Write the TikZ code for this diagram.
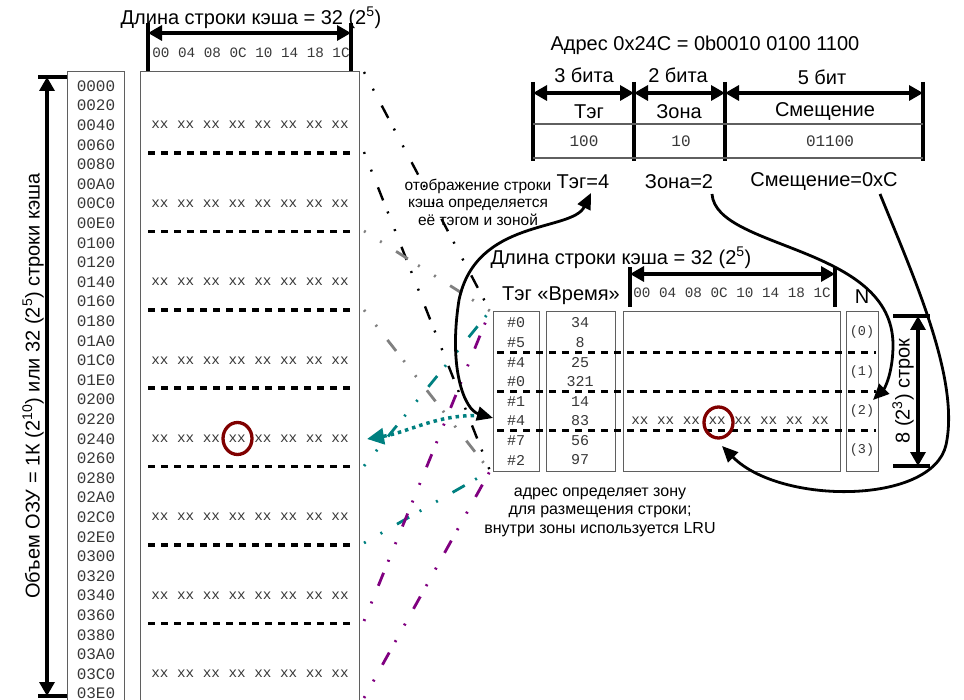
\documentclass[tikz,border=0pt]{standalone}
\usepackage{fontspec}
\setmainfont{Liberation Sans}
\setmonofont{Liberation Mono}
\usetikzlibrary{arrows.meta}
\definecolor{tealc}{RGB}{0,128,128}
\definecolor{purpc}{RGB}{128,0,128}
\definecolor{grayc}{RGB}{128,128,128}
\definecolor{dred}{RGB}{128,0,0}
\definecolor{mgray}{RGB}{55,55,55}
\definecolor{bgray}{RGB}{95,95,95}
\tikzset{
 lbl/.style={font=\fontsize{20}{22}\selectfont, inner sep=0pt},
 note/.style={font=\fontsize{15.5}{17.5}\selectfont, align=center, inner sep=0pt},
 mono/.style={font=\ttfamily\fontsize{16}{18}\selectfont, text=mgray, inner sep=0pt},
 monox/.style={font=\ttfamily\fontsize{14.3}{16}\selectfont, text=mgray, inner sep=0pt},
 monon/.style={font=\ttfamily\fontsize{13.5}{16}\selectfont, text=mgray, inner sep=0pt},
 box/.style={draw=bgray, line width=1.2pt, inner sep=0pt},
 bar/.style={line width=3.3pt},
 dimarrow/.style={line width=3.3pt, {Triangle[length=14pt,width=15pt]}-{Triangle[length=14pt,width=15pt]}},
 thin/.style={draw=bgray, line width=1.1pt},
 zonesep/.style={line width=3.5pt, dash pattern=on 7pt off 6pt},
 ddot/.style={line width=2.4pt, dash pattern=on 2pt off 17pt on 2pt off 17pt on 14pt off 12pt},
 tealdot/.style={draw=tealc, line width=3.5pt, dash pattern=on 3.5pt off 4pt},
 bigcurve/.style={line width=2.8pt},
 bigtip/.style={-{Triangle[length=16pt,width=14pt]}},
 hlring/.style={draw=dred, line width=3.3pt}
}
\begin{document}
\begin{tikzpicture}[x=1pt,y=-1pt]
\useasboundingbox (0,0) rectangle (964,700);
\clip (0,0) rectangle (964,700);

% ================= memory (left) =================
\node[lbl] (memlen) at (251,18) {Длина строки кэша = 32 (2\textsuperscript{5})};
\coordinate (mhl) at (148,23);
\coordinate (mhr) at (351,23);
\coordinate (mhlb) at (148,71);
\coordinate (mhrb) at (351,71);
\draw[bar] (mhl) -- (mhlb);
\draw[bar] (mhr) -- (mhrb);
\coordinate (mal) at (148,33);
\coordinate (mar) at (351,33);
\draw[dimarrow] (mal) -- (mar);
\node[monox] (memhdr) at (251,53) {00 04 08 0C 10 14 18 1C};

\node[box, anchor=north west, minimum width=57pt, minimum height=660pt] (addrbox) at (67,71) {};
\node[box, anchor=north west, minimum width=219pt, minimum height=660pt] (databox) at (140,71) {};

\foreach \a [count=\i from 0] in {0000,0020,0040,0060,0080,00A0,00C0,00E0,0100,0120,0140,0160,0180,01A0,01C0,01E0,0200,0220,0240,0260,0280,02A0,02C0,02E0,0300,0320,0340,0360,0380,03A0,03C0,03E0}
  \node[mono] (a\i) at (96,{86+19.6*\i}) {\a};
\foreach \k in {0,...,7}{
  \node[monox] (x\k) at (250,{125.2+78.4*\k}) {xx xx xx xx xx xx xx xx};
  \draw[zonesep] (148,{153+78.4*\k}) -- (354,{153+78.4*\k});
}
\draw[hlring] (237.5,438.5) ellipse [x radius=14.5pt, y radius=16pt];

% left size arrow
\coordinate (lt1) at (38,77); \coordinate (lt2) at (67,77);
\coordinate (lb1) at (38,696); \coordinate (lb2) at (67,696);
\draw[bar] (lt1) -- (lt2);
\draw[bar] (lb1) -- (lb2);
\coordinate (la1) at (47,77); \coordinate (la2) at (47,696);
\draw[dimarrow] (la1) -- (la2);
\node[lbl, rotate=90] (memsize) at (33,386) {Объем ОЗУ = 1К (2\textsuperscript{10}) или 32 (2\textsuperscript{5}) строки кэша};

% ================= address (top right) =================
\node[lbl] (addr) at (705,45) {Адрес 0x24C = 0b0010 0100 1100};
\foreach \n/\x in {b0/533,b1/634,b2/725,b3/923}{
  \coordinate (\n t) at (\x,82);
  \coordinate (\n b) at (\x,161);
  \coordinate (\n m) at (\x,93);
  \draw[bar] (\n t) -- (\n b);
}
\draw[dimarrow] (b0m) -- (b1m);
\draw[dimarrow] (b1m) -- (b2m);
\draw[dimarrow] (b2m) -- (b3m);
\node[lbl] (w3) at (584,75) {3 бита};
\node[lbl] (w2) at (678,75) {2 бита};
\node[lbl] (w5) at (822,77) {5 бит};
\node[lbl] (ftag) at (589,112) {Тэг};
\node[lbl] (fzone) at (679,112) {Зона};
\node[lbl] (foff) at (825,112) {Смещение};
\coordinate (hr1l) at (533,124); \coordinate (hr1r) at (923,124);
\coordinate (hr2l) at (533,158); \coordinate (hr2r) at (923,158);
\draw[thin] (hr1l) -- (hr1r);
\draw[thin] (hr2l) -- (hr2r);
\node[mono] (vtag) at (584,141) {100};
\node[mono] (vzone) at (681,141) {10};
\node[mono] (voff) at (830,141) {01100};
\node[lbl] (tag4) at (583,182) {Тэг=4};
\node[lbl] (zona2) at (679,182) {Зона=2};
\node[lbl] (smesh) at (824,182) {Смещение=0xC};
\node[note] (mapnote) at (478,202) {отображение строки\\кэша определяется\\её тэгом и зоной};

% ================= cache =================
\node[lbl] (clen) at (621,258) {Длина строки кэша = 32 (2\textsuperscript{5})};
\coordinate (chl) at (630,267); \coordinate (chlb) at (630,307);
\coordinate (chr) at (835,267); \coordinate (chrb) at (835,307);
\draw[bar] (chl) -- (chlb);
\draw[bar] (chr) -- (chrb);
\coordinate (cal) at (630,274); \coordinate (car) at (835,274);
\draw[dimarrow] (cal) -- (car);
\node[monox] (chdr) at (732,293) {00 04 08 0C 10 14 18 1C};
\node[lbl] (tvh) at (561,296) {Тэг «Время»};
\node[lbl] (nh) at (862,297) {N};

\node[box, anchor=north west, minimum width=46pt, minimum height=160pt] (tagbox) at (493,311) {};
\node[box, anchor=north west, minimum width=69pt, minimum height=160pt] (timebox) at (546,311) {};
\node[box, anchor=north west, minimum width=217pt, minimum height=160pt] (cdbox) at (623,311) {};
\node[box, anchor=north west, minimum width=32pt, minimum height=160pt] (nbox) at (846,311) {};

\foreach \t/\v [count=\i from 0] in {\#0/34,\#5/8,\#4/25,\#0/321,\#1/14,\#4/83,\#7/56,\#2/97}{
  \node[mono, font=\ttfamily\fontsize{15}{17}\selectfont] (tg\i) at (516,{323+19.57*\i}) {\t};
  \node[mono, font=\ttfamily\fontsize{15}{17}\selectfont] (tm\i) at (580,{323+19.57*\i}) {\v};
}
\foreach \z in {0,...,3}
  \node[monon] (n\z) at (862,{332.5+39.14*\z}) {(\z)};
\foreach \y in {352.5,391.5,430.5}
  \draw[zonesep] (497,\y) -- (876,\y);
\node[monox] (cx) at (730,421) {xx xx xx xx xx xx xx xx};
\draw[hlring] (718.5,422.5) ellipse [x radius=14.5pt, y radius=15.5pt];

% rows size
\coordinate (rt1) at (893,316); \coordinate (rt2) at (930,316);
\coordinate (rb1) at (893,466); \coordinate (rb2) at (930,466);
\draw[bar] (rt1) -- (rt2);
\draw[bar] (rb1) -- (rb2);
\coordinate (ra1) at (918,316); \coordinate (ra2) at (918,466);
\draw[dimarrow] (ra1) -- (ra2);
\node[lbl, rotate=90] (rows) at (903,391) {8 (2\textsuperscript{3}) строк};

\node[note, font=\fontsize{16}{18.5}\selectfont] (lrunote) at (600,512) {адрес определяет зону\\для размещения строки;\\внутри зоны используется LRU};

% ================= mapping connectors =================
\coordinate (ct) at (490,311);
\coordinate (cb) at (490,471);
\coordinate (m0) at (364,72);
\coordinate (m1) at (364,152);
\coordinate (m2) at (364,231);
\coordinate (m3) at (364,310);
\coordinate (m5) at (364,466);
\coordinate (m6) at (364,543);
\coordinate (m7) at (364,621);
\coordinate (m8) at (364,698);
\draw[ddot, black] (m0) -- (ct);
\draw[ddot, black] (m1) -- (cb);
\draw[ddot, grayc, line width=2.8pt] (m2) -- (ct);
\draw[ddot, grayc, line width=2.8pt] (m3) -- (cb);
\draw[ddot, tealc, line width=2.8pt] (m5) -- (ct);
\draw[ddot, tealc, line width=2.8pt] (m6) -- (cb);
\draw[ddot, purpc, line width=2.8pt] (m7) -- (ct);
\draw[ddot, purpc, line width=2.8pt] (m8) -- (cb);

% teal dotted arrow to the memory row
\coordinate (tq1) at (489,416);
\coordinate (tq2) at (367,439);
\draw[tealdot, -{Triangle[length=17pt,width=16pt]}] (tq1) .. controls (440,412) and (410,432) .. (tq2);

% ================= big curves =================
\coordinate (tagtip) at (591,193);
\coordinate (tagrow) at (493,418);
\draw[bigcurve, {Triangle[length=16pt,width=14pt]}-{Triangle[length=16pt,width=14pt]}] (tagtip) .. controls (572,232) and (476,218) .. (459,300) .. controls (448,370) and (465,410) .. (tagrow);
\coordinate (zs) at (712,194);
\coordinate (ze) at (873,400);
\draw[bigcurve, bigtip] (zs) .. controls (716,250) and (893,245) .. (893,345) .. controls (893,372) and (885,388) .. (ze);
\coordinate (ss) at (880,194);
\coordinate (se) at (722,446);
\draw[bigcurve, bigtip] (ss) .. controls (915,280) and (960,380) .. (946,445) .. controls (932,505) and (780,505) .. (se);
\end{tikzpicture}
\end{document}
